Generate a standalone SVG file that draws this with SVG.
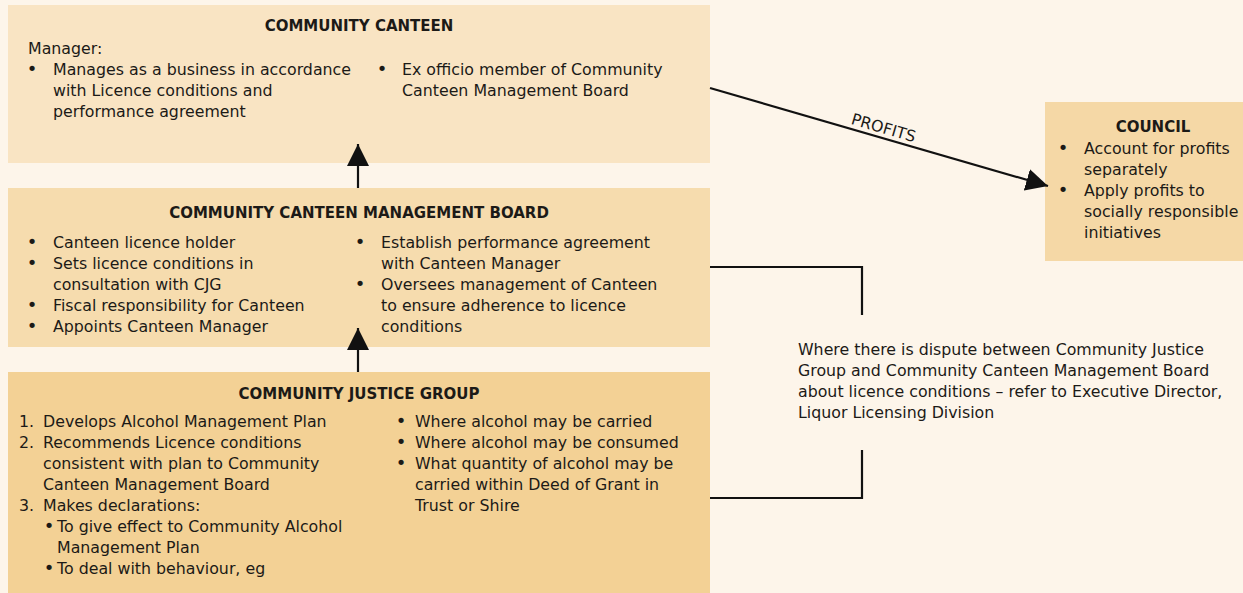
<svg xmlns="http://www.w3.org/2000/svg" width="1243" height="593" viewBox="0 0 1243 593">
  <defs>
    <style>
      text { font-family: "DejaVu Sans", "Liberation Sans", sans-serif; font-size: 15.8px; fill: #1c1a17; }
      .title { font-weight: bold; font-size: 15px; text-anchor: middle; }
      .dot { text-anchor: middle; font-size: 18px; }
      .num { text-anchor: end; }
      .wire { fill: none; stroke: #111; stroke-width: 2.2; }
    </style>
    <marker id="head" viewBox="0 0 22 22" refX="22" refY="11" markerWidth="22" markerHeight="22" markerUnits="userSpaceOnUse" orient="auto">
      <path d="M0,0 L22,11 L0,22 z" fill="#111"/>
    </marker>
  </defs>

  <rect width="1243" height="593" fill="#fdf5ea"/>

  <!-- Community Canteen -->
  <g id="canteen">
    <rect x="8" y="5" width="702" height="158" fill="#f9e4c3"/>
    <text class="title" x="359" y="31">COMMUNITY CANTEEN</text>
    <text x="28" y="54">Manager:</text>
    <text class="dot" x="32" y="75">•</text>
    <text x="53" y="75">Manages as a business in accordance</text>
    <text x="53" y="96">with Licence conditions and</text>
    <text x="53" y="117">performance agreement</text>
    <text class="dot" x="382" y="75">•</text>
    <text x="402" y="75">Ex officio member of Community</text>
    <text x="402" y="96">Canteen Management Board</text>
  </g>

  <!-- Community Canteen Management Board -->
  <g id="board">
    <rect x="8" y="188" width="702" height="159" fill="#f6dcae"/>
    <text class="title" x="359" y="218">COMMUNITY CANTEEN MANAGEMENT BOARD</text>
    <text class="dot" x="32" y="248">•</text>
    <text x="53" y="248">Canteen licence holder</text>
    <text class="dot" x="32" y="269">•</text>
    <text x="53" y="269">Sets licence conditions in</text>
    <text x="53" y="290">consultation with CJG</text>
    <text class="dot" x="32" y="311">•</text>
    <text x="53" y="311">Fiscal responsibility for Canteen</text>
    <text class="dot" x="32" y="332">•</text>
    <text x="53" y="332">Appoints Canteen Manager</text>
    <text class="dot" x="360" y="248">•</text>
    <text x="381" y="248">Establish performance agreement</text>
    <text x="381" y="269">with Canteen Manager</text>
    <text class="dot" x="360" y="290">•</text>
    <text x="381" y="290">Oversees management of Canteen</text>
    <text x="381" y="311">to ensure adherence to licence</text>
    <text x="381" y="332">conditions</text>
  </g>

  <!-- Community Justice Group -->
  <g id="justice">
    <rect x="8" y="372" width="702" height="221" fill="#f3d195"/>
    <text class="title" x="359" y="399">COMMUNITY JUSTICE GROUP</text>
    <text class="num" x="34" y="427">1.</text>
    <text x="43" y="427">Develops Alcohol Management Plan</text>
    <text class="num" x="34" y="448">2.</text>
    <text x="43" y="448">Recommends Licence conditions</text>
    <text x="43" y="469">consistent with plan to Community</text>
    <text x="43" y="490">Canteen Management Board</text>
    <text class="num" x="34" y="511">3.</text>
    <text x="43" y="511">Makes declarations:</text>
    <text class="dot" x="49" y="532">•</text>
    <text x="57" y="532">To give effect to Community Alcohol</text>
    <text x="57" y="553">Management Plan</text>
    <text class="dot" x="49" y="574">•</text>
    <text x="57" y="574">To deal with behaviour, eg</text>
    <text class="dot" x="401" y="427">•</text>
    <text x="415" y="427">Where alcohol may be carried</text>
    <text class="dot" x="401" y="448">•</text>
    <text x="415" y="448">Where alcohol may be consumed</text>
    <text class="dot" x="401" y="469">•</text>
    <text x="415" y="469">What quantity of alcohol may be</text>
    <text x="415" y="490">carried within Deed of Grant in</text>
    <text x="415" y="511">Trust or Shire</text>
  </g>

  <!-- Council -->
  <g id="council">
    <rect x="1045" y="102" width="198" height="159" fill="#f5d8a6"/>
    <text class="title" x="1153" y="132">COUNCIL</text>
    <text class="dot" x="1063" y="154">•</text>
    <text x="1084" y="154">Account for profits</text>
    <text x="1084" y="175">separately</text>
    <text class="dot" x="1063" y="196">•</text>
    <text x="1084" y="196">Apply profits to</text>
    <text x="1084" y="217">socially responsible</text>
    <text x="1084" y="238">initiatives</text>
  </g>

  <!-- Dispute note -->
  <g id="dispute">
    <text x="798" y="355">Where there is dispute between Community Justice</text>
    <text x="798" y="376">Group and Community Canteen Management Board</text>
    <text x="798" y="397">about licence conditions – refer to Executive Director,</text>
    <text x="798" y="418">Liquor Licensing Division</text>
  </g>

  <!-- Connectors -->
  <g id="connectors">
    <line class="wire" x1="358" y1="188" x2="358" y2="144" marker-end="url(#head)"/>
    <line class="wire" x1="358" y1="372" x2="358" y2="328" marker-end="url(#head)"/>
    <line class="wire" x1="710" y1="88" x2="1048" y2="186" stroke-width="2.5" marker-end="url(#head)"/>
    <text x="882" y="133" text-anchor="middle" transform="rotate(16.2 882 133)">PROFITS</text>
    <polyline class="wire" points="710,267 862,267 862,315"/>
    <polyline class="wire" points="710,498 862,498 862,450"/>
  </g>
</svg>
